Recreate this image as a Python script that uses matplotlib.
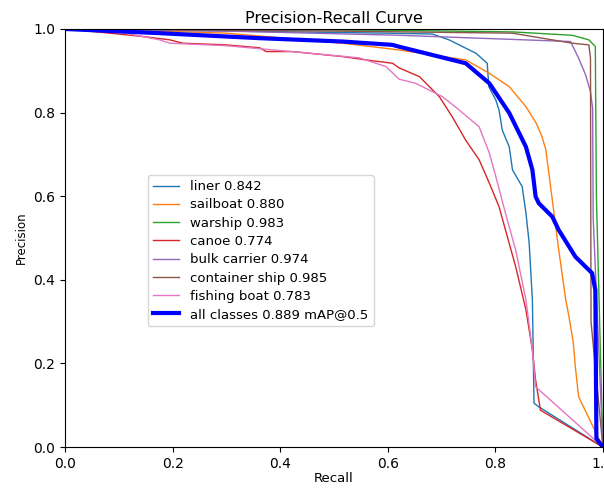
import matplotlib
matplotlib.use("Agg")
import matplotlib.pyplot as plt

names = ["liner", "sailboat", "warship", "canoe", "bulk carrier", "container ship", "fishing boat"]
ap_values = [0.842, 0.880, 0.983, 0.774, 0.974, 0.985, 0.783]
map50 = 0.889

liner_r = [0, 0.3, 0.6, 0.683, 0.714, 0.764, 0.785, 0.788, 0.801, 0.807, 0.813, 0.826, 0.832, 0.850, 0.857, 0.863, 0.869, 0.872, 0.881, 1.0]
liner_p = [1.0, 0.995, 0.99, 0.988, 0.974, 0.942, 0.918, 0.862, 0.830, 0.806, 0.758, 0.718, 0.663, 0.623, 0.56, 0.488, 0.352, 0.105, 0.096, 0.0]

sailboat_r = [0, 0.1, 0.3, 0.516, 0.62, 0.745, 0.789, 0.826, 0.857, 0.876, 0.887, 0.894, 0.906, 0.918, 0.931, 0.937, 0.945, 0.949, 0.955, 1.0]
sailboat_p = [1.0, 0.998, 0.99, 0.966, 0.95, 0.926, 0.894, 0.862, 0.814, 0.775, 0.742, 0.711, 0.591, 0.471, 0.352, 0.312, 0.25, 0.19, 0.12, 0.0]

warship_r = [0, 0.6, 0.832, 0.943, 0.974, 0.986, 0.988, 1.0]
warship_p = [1.0, 0.997, 0.993, 0.985, 0.974, 0.958, 0.6, 0.0]

canoe_r = [0, 0.052, 0.145, 0.195, 0.219, 0.30, 0.362, 0.374, 0.423, 0.516, 0.560, 0.609, 0.621, 0.659, 0.696, 0.720, 0.745, 0.770, 0.789, 0.807, 0.819, 0.838, 0.857, 0.869, 0.875, 0.884, 1.0]
canoe_p = [1.0, 0.994, 0.982, 0.974, 0.966, 0.962, 0.955, 0.946, 0.946, 0.934, 0.926, 0.918, 0.907, 0.886, 0.838, 0.790, 0.734, 0.687, 0.631, 0.575, 0.519, 0.431, 0.328, 0.232, 0.160, 0.088, 0.0]

bulk_r = [0, 0.3, 0.62, 0.94, 0.955, 0.968, 0.977, 0.981, 0.982, 1.0]
bulk_p = [1.0, 0.995, 0.985, 0.97, 0.93, 0.89, 0.85, 0.81, 0.55, 0.0]

container_r = [0, 0.5, 0.832, 0.943, 0.974, 0.977, 0.978, 1.0]
container_p = [1.0, 0.995, 0.99, 0.966, 0.962, 0.93, 0.3, 0.0]

fishing_r = [0, 0.1, 0.176, 0.195, 0.3, 0.455, 0.547, 0.597, 0.621, 0.652, 0.702, 0.733, 0.770, 0.789, 0.801, 0.819, 0.838, 0.857, 0.869, 0.875, 1.0]
fishing_p = [1.0, 0.993, 0.974, 0.966, 0.96, 0.942, 0.931, 0.910, 0.880, 0.870, 0.838, 0.806, 0.766, 0.703, 0.647, 0.559, 0.471, 0.352, 0.232, 0.144, 0.0]

all_r = [0, 0.176, 0.362, 0.516, 0.609, 0.62, 0.745, 0.789, 0.826, 0.857, 0.869, 0.875, 0.881, 0.906, 0.918, 0.949, 0.980, 0.986, 0.988, 1.0]
all_p = [1.0, 0.99, 0.978, 0.970, 0.962, 0.958, 0.918, 0.870, 0.799, 0.718, 0.663, 0.599, 0.583, 0.551, 0.519, 0.455, 0.416, 0.376, 0.02, 0.0]

curves = [(liner_r, liner_p), (sailboat_r, sailboat_p), (warship_r, warship_p),
          (canoe_r, canoe_p), (bulk_r, bulk_p), (container_r, container_p),
          (fishing_r, fishing_p)]

fig = plt.figure(figsize=(6.04, 4.88), dpi=100)
ax = fig.add_axes([0.1076, 0.084, 0.8905, 0.8566])

for name, ap, (r, p) in zip(names, ap_values, curves):
    ax.plot(r, p, linewidth=1, label=f"{name} {ap:.3f}")
ax.plot(all_r, all_p, linewidth=3, color="blue", label=f"all classes {map50:.3f} mAP@0.5")

ax.set_xlim(0, 1)
ax.set_ylim(0, 1)
ax.set_xlabel("Recall", fontsize=9.5, labelpad=1)
ax.set_ylabel("Precision", fontsize=8.5)
ax.set_title("Precision-Recall Curve", fontsize=11.5, pad=4)
ax.tick_params(labelsize=10)
ax.legend(loc="upper left", bbox_to_anchor=(0.154, 0.651), borderaxespad=0,
          fontsize=9.5, labelspacing=0.4)

fig.savefig("out.png", dpi=100)
